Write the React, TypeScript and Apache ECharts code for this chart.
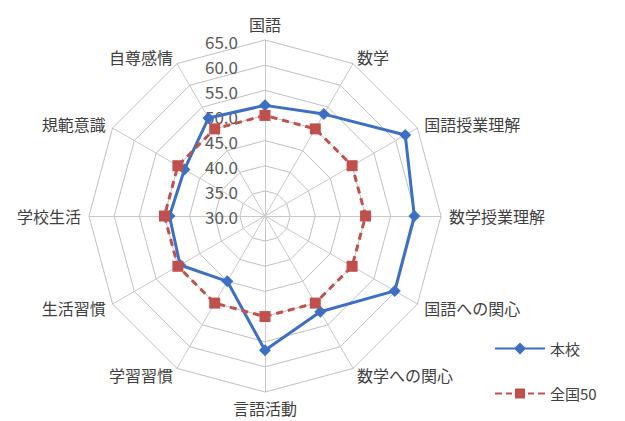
import React, { useEffect, useRef } from "react";
import * as echarts from "echarts";

// Values listed clockwise from the top axis
const indicators = [
  "国語", "数学", "国語授業理解", "数学授業理解", "国語への関心", "数学への関心",
  "言語活動", "学習習慣", "生活習慣", "学校生活", "規範意識", "自尊感情",
];
const honkou = [52.0, 53.4, 62.2, 59.7, 59.8, 52.0, 56.7, 45.0, 49.5, 49.0, 48.5, 52.5];
const zenkoku = [50, 50, 50, 50, 50, 50, 50, 50, 50, 50, 50, 50];
const seriesNames = ["本校", "全国50"];
const scaleMin = 30;
const scaleMax = 65;
const scaleStep = 5;

// ECharts radar runs counter-clockwise; reorder so it reads clockwise
const order = indicators.map((_, i) => (indicators.length - i) % indicators.length);
const cw = <T,>(arr: T[]) => order.map((k) => arr[k]);

const blueIcon = "path://M0 5H50V7H0Z M25 0L31 6L25 12L19 6Z";
const redIcon =
  "path://M0 5H7V7H0Z M11 5H17V7H11Z M33 5H39V7H33Z M43 5H50V7H43Z M20 1H30V11H20Z M0 0H0.01V12H0Z";

export default function App() {
  const ref = useRef<HTMLDivElement>(null);
  useEffect(() => {
    if (!ref.current) return;
    const chart = echarts.init(ref.current, null, { renderer: "svg" });
    const font = "'Noto Sans CJK JP', 'Noto Sans', sans-serif";
    chart.setOption({
      animation: false,
      backgroundColor: "#ffffff",
      textStyle: { fontFamily: font },
      legend: {
        orient: "vertical",
        left: 490,
        top: 336,
        itemGap: 30,
        itemWidth: 50,
        itemHeight: 12,
        textStyle: { fontSize: 15, color: "#404040", fontFamily: font },
        data: [
          { name: seriesNames[0], icon: blueIcon },
          { name: seriesNames[1], icon: redIcon },
        ],
      },
      grid: { left: 241, top: 41, width: 1, height: 175 },
      xAxis: { type: "value", show: false },
      yAxis: {
        type: "value",
        min: scaleMin,
        max: scaleMax,
        interval: scaleStep,
        axisLine: { show: false },
        axisTick: { show: false },
        splitLine: { show: false },
        axisLabel: {
          margin: 3,
          fontSize: 17,
          color: "#595959",
          fontFamily: font,
          formatter: (v: number) => v.toFixed(1),
        },
      },
      radar: {
        center: [265, 216],
        radius: 176,
        startAngle: 90,
        splitNumber: 7,
        shape: "polygon",
        indicator: cw(indicators).map((n) => ({ name: n, min: scaleMin, max: scaleMax })),
        axisName: { color: "#404040", fontSize: 16, fontFamily: font },
        nameGap: 8,
        axisLine: { lineStyle: { color: "#c8c8c8", width: 1 } },
        splitLine: { lineStyle: { color: "#c0c0c0", width: 1 } },
        splitArea: { show: false },
      },
      series: [
        {
          type: "radar",
          data: [
            {
              name: seriesNames[0],
              value: cw(honkou),
              symbol: "diamond",
              symbolSize: 12,
              lineStyle: { color: "#3d6fc4", width: 3 },
              itemStyle: { color: "#3d6fc4" },
            },
            {
              name: seriesNames[1],
              value: cw(zenkoku),
              symbol: "rect",
              symbolSize: 11,
              lineStyle: { color: "#c0504d", width: 3, type: [7, 5] },
              itemStyle: { color: "#c0504d" },
            },
          ],
        },
      ],
    });
    return () => chart.dispose();
  }, []);
  return (
    <div
      ref={ref}
      style={{ position: "fixed", left: 0, top: 0, width: 625, height: 421 }}
    />
  );
}
